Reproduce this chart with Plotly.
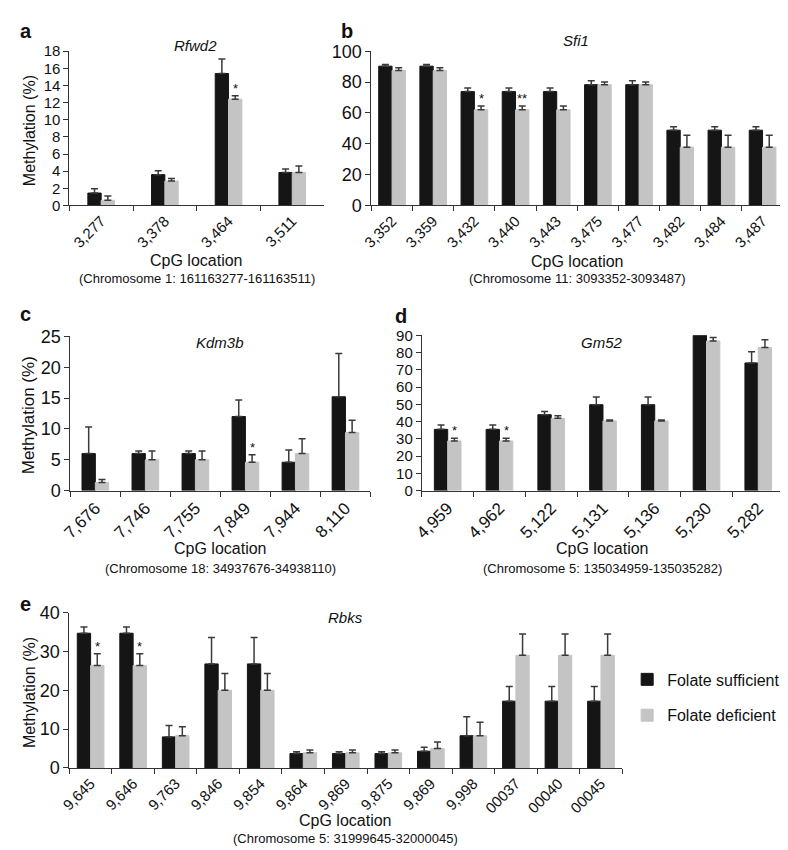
import plotly.graph_objects as go

W, H = 788, 850
FONT = "Liberation Sans, Arial, Helvetica, sans-serif"
BLACK = "#151515"
GREY = "#c4c4c4"
ERRC = "#3a3a3a"
AXC = "#333333"
TXT = "#111111"

# ---------------- data ----------------
# a  Rfwd2
a_labels = ["3,277", "3,378", "3,464", "3,511"]
a_suff = [1.45, 3.6, 15.4, 3.85]
a_suff_err = [0.5, 0.45, 1.7, 0.4]
a_def = [0.6, 2.85, 12.4, 3.85]
a_def_err = [0.5, 0.3, 0.4, 0.75]
a_stars = ["", "", "*", ""]

# b  Sfi1
b_labels = ["3,352", "3,359", "3,432", "3,440", "3,443", "3,475", "3,477", "3,482", "3,484", "3,487"]
b_suff = [90.3, 90.3, 73.8, 73.8, 73.8, 78.3, 78.3, 48.8, 48.8, 48.8]
b_suff_err = [1.0, 1.0, 2.3, 2.3, 2.3, 2.5, 2.5, 2.2, 2.2, 2.2]
b_def = [87.5, 87.5, 62.0, 62.0, 62.0, 78.3, 78.3, 37.8, 37.8, 37.8]
b_def_err = [1.8, 1.8, 2.5, 2.5, 2.5, 1.8, 1.8, 7.7, 7.7, 7.7]
b_stars = ["", "", "*", "**", "", "", "", "", "", ""]

# c  Kdm3b
c_labels = ["7,676", "7,746", "7,755", "7,849", "7,944", "8,110"]
c_suff = [6.0, 6.0, 6.0, 12.0, 4.6, 15.2]
c_suff_err = [4.3, 0.4, 0.4, 2.7, 2.0, 7.0]
c_def = [1.3, 5.0, 5.0, 4.6, 6.0, 9.4]
c_def_err = [0.5, 1.4, 1.4, 1.2, 2.4, 2.0]
c_stars = ["", "", "", "*", "", ""]

# d  Gm52
d_labels = ["4,959", "4,962", "5,122", "5,131", "5,136", "5,230", "5,282"]
d_suff = [35.5, 35.5, 44.0, 49.8, 49.8, 90.0, 74.0]
d_suff_err = [2.5, 2.5, 1.9, 4.5, 4.5, 3.8, 6.5]
d_def = [28.8, 28.8, 41.9, 40.4, 40.4, 86.7, 83.0]
d_def_err = [1.5, 1.5, 1.5, 0.6, 0.6, 2.0, 4.4]
d_stars = ["*", "*", "", "", "", "", ""]

# e  Rbks
e_labels = ["9,645", "9,646", "9,763", "9,846", "9,854", "9,864", "9,869", "9,875",
            "9,869", "9,998", "00037", "00040", "00045"]
e_suff = [34.7, 34.7, 8.0, 26.8, 26.8, 3.7, 3.7, 3.7, 4.3, 8.3, 17.2, 17.2, 17.2]
e_suff_err = [1.6, 1.6, 2.9, 6.8, 6.8, 0.5, 0.5, 0.5, 1.0, 4.9, 3.8, 3.8, 3.8]
e_def = [26.4, 26.4, 8.3, 20.0, 20.0, 3.9, 3.9, 3.9, 5.0, 8.3, 29.0, 29.0, 29.0]
e_def_err = [3.0, 3.0, 2.3, 4.3, 4.3, 0.7, 0.7, 0.7, 1.7, 3.5, 5.5, 5.5, 5.5]
e_stars = ["*", "*", "", "", "", "", "", "", "", "", "", "", ""]

series_names = ["Folate sufficient", "Folate deficient"]

# ---------------- layout config (pixels) ----------------
panels = [
    dict(letter="a", gene="Rfwd2", chrom="(Chromosome 1: 161163277-161163511)",
         labels=a_labels, suff=a_suff, suff_err=a_suff_err, deff=a_def, def_err=a_def_err, stars=a_stars,
         x0=52, x1=310, y0=34, y1=192, ymax=18, dtick=2, ytitle=16,
         letter_xy=(8, 13), gene_xy=(180, 28), cpg_y=248, chrom_y=267, xfs=15, yfs=15,
         cpg_fs=16, chrom_fs=13),
    dict(letter="b", gene="Sfi1", chrom="(Chromosome 11: 3093352-3093487)",
         labels=b_labels, suff=b_suff, suff_err=b_suff_err, deff=b_def, def_err=b_def_err, stars=b_stars,
         x0=358, x1=775, y0=34, y1=192, ymax=100, dtick=20, ytitle=0,
         letter_xy=(333, 13), gene_xy=(565, 23), cpg_y=249, chrom_y=267, xfs=15, yfs=18,
         cpg_fs=16, chrom_fs=13),
    dict(letter="c", gene="Kdm3b", chrom="(Chromosome 18: 34937676-34938110)",
         labels=c_labels, suff=c_suff, suff_err=c_suff_err, deff=c_def, def_err=c_def_err, stars=c_stars,
         x0=53, x1=357, y0=326, y1=484, ymax=25, dtick=5, ytitle=17,
         letter_xy=(8, 303), gene_xy=(205, 332), cpg_y=543, chrom_y=564, xfs=17, yfs=18,
         cpg_fs=16, chrom_fs=13),
    dict(letter="d", gene="Gm52", chrom="(Chromosome 5: 135034959-135035282)",
         labels=d_labels, suff=d_suff, suff_err=d_suff_err, deff=d_def, def_err=d_def_err, stars=d_stars,
         x0=409, x1=776, y0=325, y1=484, ymax=90, dtick=10, ytitle=0,
         letter_xy=(388, 305), gene_xy=(592, 332), cpg_y=543, chrom_y=564, xfs=17, yfs=15,
         cpg_fs=16, chrom_fs=13),
    dict(letter="e", gene="Rbks", chrom="(Chromosome 5: 31999645-32000045)",
         labels=e_labels, suff=e_suff, suff_err=e_suff_err, deff=e_def, def_err=e_def_err, stars=e_stars,
         x0=52, x1=612, y0=609, y1=768, ymax=40, dtick=10, ytitle=16,
         letter_xy=(8, 600), gene_xy=(332, 614), cpg_y=822, chrom_y=840, xfs=15, yfs=18,
         cpg_fs=16, chrom_fs=13),
]
BAR_PX = 13.5

fig = go.Figure()
annotations = []


def ann(text, x, y, size, **kw):
    d = dict(text=text, x=x / W, y=1 - y / H, xref="paper", yref="paper", showarrow=False,
             font=dict(size=size, family=FONT, color=TXT), xanchor="center", yanchor="middle")
    d.update(kw)
    return d


for i, p in enumerate(panels):
    n = len(p["labels"])
    sfx = "" if i == 0 else str(i + 1)
    xa, ya = "x" + sfx, "y" + sfx
    ids = [f"{lab}#{k}" for k, lab in enumerate(p["labels"])]
    cat_px = (p["x1"] - p["x0"]) / n
    w = BAR_PX / cat_px
    show = p["letter"] == "e"
    for name, vals, errs, col, off, grp in [
        (series_names[0], p["suff"], p["suff_err"], BLACK, -w, "s"),
        (series_names[1], p["deff"], p["def_err"], GREY, 0.0, "d"),
    ]:
        fig.add_trace(go.Bar(
            x=ids, y=vals, name=name, marker=dict(color=col, line=dict(width=1, color=col)),
            width=w, offset=off, xaxis=xa, yaxis=ya, showlegend=show, legendgroup=grp,
            error_y=dict(type="data", symmetric=False, array=errs, arrayminus=[0] * n,
                         color=ERRC, thickness=1.5, width=3.5),
        ))
    # significance stars
    for k, s in enumerate(p["stars"]):
        if s:
            annotations.append(dict(text=s, x=ids[k], y=p["deff"][k] + p["def_err"][k],
                                    xref=xa, yref=ya, showarrow=False, xanchor="center",
                                    yanchor="bottom", xshift=BAR_PX / 2, yshift=-2,
                                    font=dict(size=13, family=FONT, color=TXT)))
    axis_common = dict(showline=True, linecolor=AXC, linewidth=1, ticks="outside", ticklen=5,
                       tickwidth=1, tickcolor=AXC, showgrid=False, zeroline=False)
    fig.layout["xaxis" + sfx] = dict(
        domain=[p["x0"] / W, p["x1"] / W], anchor=ya, type="category",
        range=[-0.5, n - 0.5], tickmode="array", tickvals=ids, ticktext=p["labels"],
        tickson="boundaries", tickangle=-45,
        tickfont=dict(size=p["xfs"], family=FONT, color=TXT), **axis_common)
    fig.layout["yaxis" + sfx] = dict(
        domain=[1 - p["y1"] / H, 1 - p["y0"] / H], anchor=xa, range=[0, p["ymax"]],
        tick0=0, dtick=p["dtick"], tickfont=dict(size=p["yfs"], family=FONT, color=TXT),
        **axis_common)
    cx = (p["x0"] + p["x1"]) / 2
    annotations.append(ann(f"<b>{p['letter']}</b>", p["letter_xy"][0], p["letter_xy"][1], 20))
    annotations.append(ann(f"<i>{p['gene']}</i>", p["gene_xy"][0], p["gene_xy"][1], 15))
    annotations.append(ann("CpG location", cx, p["cpg_y"], p["cpg_fs"]))
    annotations.append(ann(p["chrom"], cx, p["chrom_y"], p["chrom_fs"]))
    if p["ytitle"]:
        annotations.append(ann("Methylation (%)", 11, (p["y0"] + p["y1"]) / 2 + 2, p["ytitle"],
                               textangle=-90))

fig.update_layout(
    width=W, height=H, autosize=False, margin=dict(l=0, r=0, t=0, b=0),
    paper_bgcolor="white", plot_bgcolor="white", barmode="group",
    font=dict(family=FONT, color=TXT),
    annotations=annotations,
    legend=dict(x=617 / W, y=1 - 660 / H, xanchor="left", yanchor="top",
                font=dict(size=16, family=FONT, color=TXT),
                tracegroupgap=12, bgcolor="rgba(0,0,0,0)"),
)

fig.write_html("out.html")
